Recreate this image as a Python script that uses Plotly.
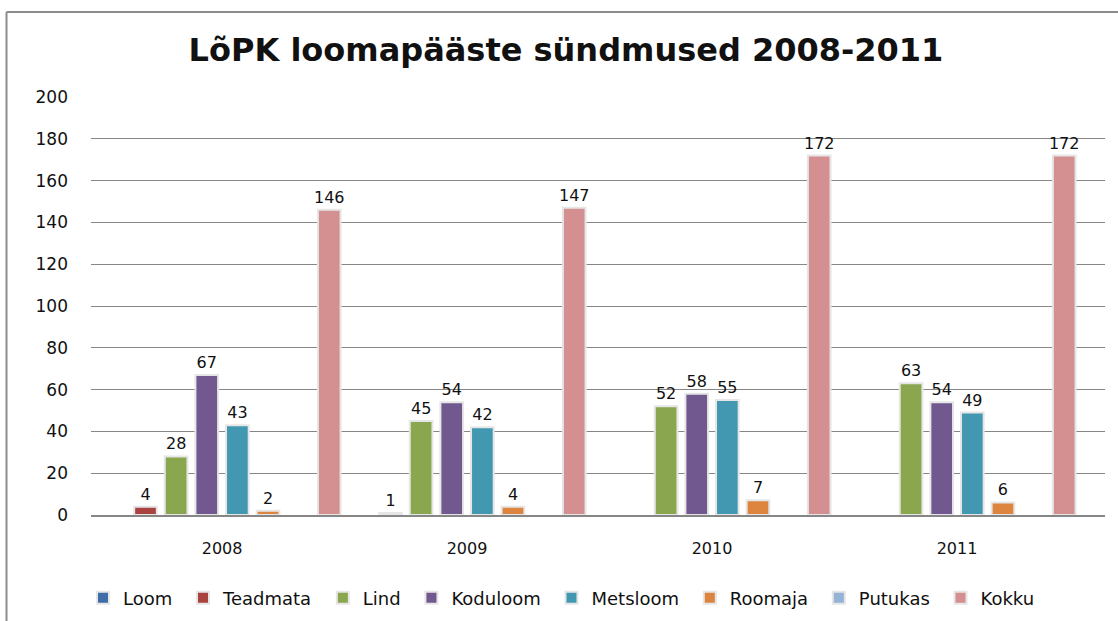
import plotly.graph_objects as go

years = ["2008", "2009", "2010", "2011"]
series_names = ["Loom", "Teadmata", "Lind", "Koduloom", "Metsloom", "Roomaja", "Putukas", "Kokku"]
loom = [None, None, None, None]
teadmata = [4, 1, None, None]
lind = [28, 45, 52, 63]
koduloom = [67, 54, 58, 54]
metsloom = [43, 42, 55, 49]
roomaja = [2, 4, 7, 6]
putukas = [None, None, None, None]
kokku = [146, 147, 172, 172]
values = [loom, teadmata, lind, koduloom, metsloom, roomaja, putukas, kokku]
colors = ["#3F6DA8", "#A84340", "#8AA64E", "#71588F", "#4298B0", "#DD853F", "#95B3D7", "#D49090"]
y_ticks = list(range(0, 201, 20))

fig = go.Figure()
for name, vals, col in zip(series_names, values, colors):
    fig.add_trace(go.Bar(
        name=name + "\u00a0", x=years, y=vals,
        marker=dict(color=col, line=dict(color="#E6E6E6", width=2)),
        text=[("" if v is None else str(v)) for v in vals],
        textposition="outside", cliponaxis=False, constraintext="none",
        textfont=dict(family="DejaVu Sans", size=16, color="#111111"),
    ))

fig.update_layout(
    width=1118, height=621,
    barmode="group", bargap=0.0, bargroupgap=0.26,
    plot_bgcolor="white", paper_bgcolor="white",
    margin=dict(l=91, r=13, t=97, b=106, autoexpand=False),
    title=dict(text="<b>LõPK loomapääste sündmused 2008-2011</b>",
               xref="container", x=566 / 1118, xanchor="center",
               yref="container", y=1 - 50 / 621, yanchor="middle",
               font=dict(family="DejaVu Sans", size=32, color="#111111")),
    xaxis=dict(range=[-0.535, 3.604], showline=True, linecolor="#868686", linewidth=1.5, ticks="",
               ticklabelstandoff=18,
               tickfont=dict(family="DejaVu Sans", size=16, color="#111111")),
    yaxis=dict(range=[0, 200], tickvals=y_ticks, showgrid=True, gridcolor="#868686", gridwidth=1,
               zeroline=False, ticks="", ticklabelstandoff=22,
               tickfont=dict(family="DejaVu Sans", size=17, color="#111111")),
    legend=dict(orientation="h", xref="container", x=564 / 1118, xanchor="center",
                yref="container", y=1 - 598 / 621, yanchor="middle",
                font=dict(family="DejaVu Sans", size=18, color="#111111"),
                itemwidth=30, traceorder="normal"),
    showlegend=True,
)
# chart frame (left and top edges)
fig.add_shape(type="line", xref="paper", yref="paper",
              x0=(6.5 - 91) / 1014, x1=(6.5 - 91) / 1014, y0=(515 - 621) / 418, y1=(515 - 12) / 418,
              line=dict(color="#8C8C8C", width=2))
fig.add_shape(type="line", xref="paper", yref="paper",
              x0=(6.5 - 91) / 1014, x1=(1118 - 91) / 1014, y0=(515 - 12) / 418, y1=(515 - 12) / 418,
              line=dict(color="#8C8C8C", width=2))
fig.write_html("out.html", config={"displayModeBar": False},
               post_script="document.body.style.margin='0';document.body.style.overflow='hidden';")
